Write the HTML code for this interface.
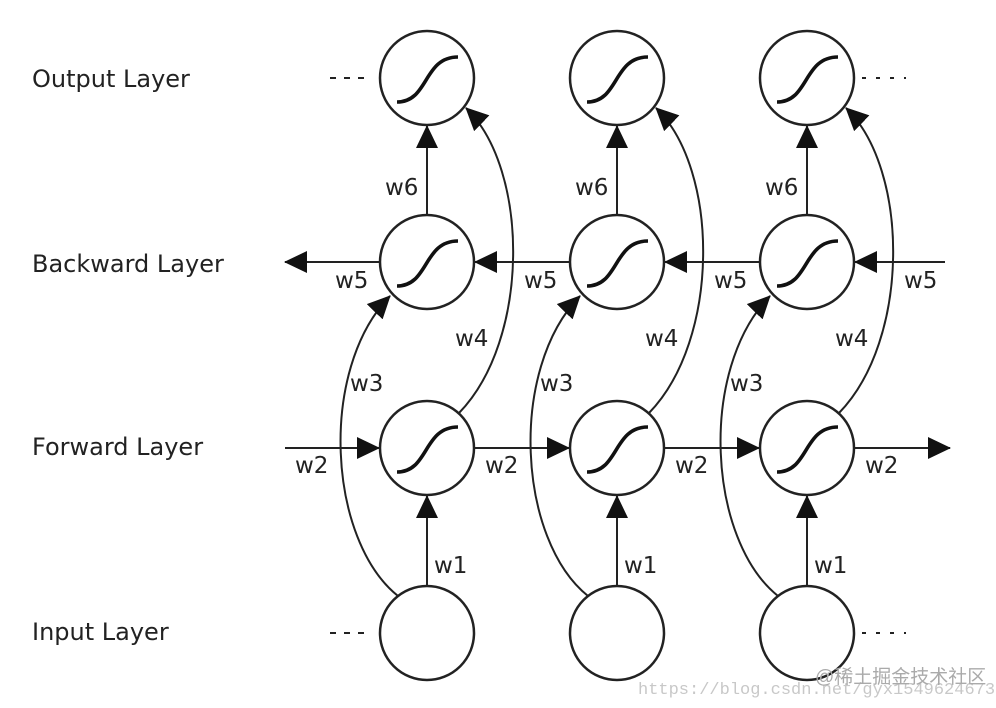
<!DOCTYPE html>
<html><head><meta charset="utf-8"><style>
html,body{margin:0;padding:0;background:#fff;}
svg{display:block;}
text{font-family:"DejaVu Sans","Liberation Sans",sans-serif;fill:#222;}
</style></head><body>
<svg width="996" height="708" viewBox="0 0 996 708" xmlns="http://www.w3.org/2000/svg">
<defs>
<marker id="a" markerWidth="24" markerHeight="22" refX="22" refY="11" orient="auto" markerUnits="userSpaceOnUse">
<path d="M0,0 L23,11 L0,22 Z" fill="#111"/>
</marker>
<g id="sig"><path d="M-30,24 C2,24 -4,-21 31,-21" fill="none" stroke="#111" stroke-width="3.6"/></g>
</defs>
<g font-size="24">
<text x="32" y="87">Output Layer</text>
<text x="32" y="272">Backward Layer</text>
<text x="32" y="455">Forward Layer</text>
<text x="32" y="640">Input Layer</text>
</g>
<g stroke="#222" stroke-width="2" fill="none">
<path d="M330,78 H372" stroke-dasharray="6,8"/>
<path d="M330,633 H372" stroke-dasharray="6,8"/>
<path d="M862,78 H906" stroke-dasharray="4,10"/>
<path d="M862,633 H906" stroke-dasharray="4,10"/>
<path d="M945,262 H855" marker-end="url(#a)"/>
<path d="M761,262 H665" marker-end="url(#a)"/>
<path d="M571,262 H475" marker-end="url(#a)"/>
<path d="M381,262 H285" marker-end="url(#a)"/>
<path d="M285,448 H379" marker-end="url(#a)"/>
<path d="M474,448 H569" marker-end="url(#a)"/>
<path d="M664,448 H759" marker-end="url(#a)"/>
<path d="M854,448 H950" marker-end="url(#a)"/>
</g>
<g id="col" stroke="#222" stroke-width="2" fill="none">
<path d="M427,215 V126" marker-end="url(#a)"/>
<path d="M427,586 V496" marker-end="url(#a)"/>
<path d="M459,413 C530,340 530,170 466,108" marker-end="url(#a)"/>
<path d="M398,596 C328,540 318,370 390,296" marker-end="url(#a)"/>
<circle cx="427" cy="78" r="47" stroke-width="2.5"/>
<circle cx="427" cy="262" r="47" stroke-width="2.5"/>
<circle cx="427" cy="448" r="47" stroke-width="2.5"/>
<circle cx="427" cy="633" r="47" stroke-width="2.5"/>
<use href="#sig" x="427" y="78"/>
<use href="#sig" x="427" y="262"/>
<use href="#sig" x="427" y="448"/>
</g>
<use href="#col" x="190"/>
<use href="#col" x="380"/>
<g font-size="23">
<text x="385" y="195">w6</text><text x="575" y="195">w6</text><text x="765" y="195">w6</text>
<text x="335" y="288">w5</text><text x="524" y="288">w5</text><text x="714" y="288">w5</text><text x="904" y="288">w5</text>
<text x="455" y="346">w4</text><text x="645" y="346">w4</text><text x="835" y="346">w4</text>
<text x="350" y="391">w3</text><text x="540" y="391">w3</text><text x="730" y="391">w3</text>
<text x="295" y="473">w2</text><text x="485" y="473">w2</text><text x="675" y="473">w2</text><text x="865" y="473">w2</text>
<text x="434" y="573">w1</text><text x="624" y="573">w1</text><text x="814" y="573">w1</text>
</g>
<text x="638" y="694" font-size="17" style="font-family:'Liberation Mono',monospace;fill:#c8c8c8">https://blog.csdn.net/gyx1549624673</text>
<text x="815" y="683" font-size="19" style="font-family:'Liberation Sans','Noto Sans CJK SC',sans-serif;fill:#aaa">@稀土掘金技术社区</text>
</svg>
</body></html>
